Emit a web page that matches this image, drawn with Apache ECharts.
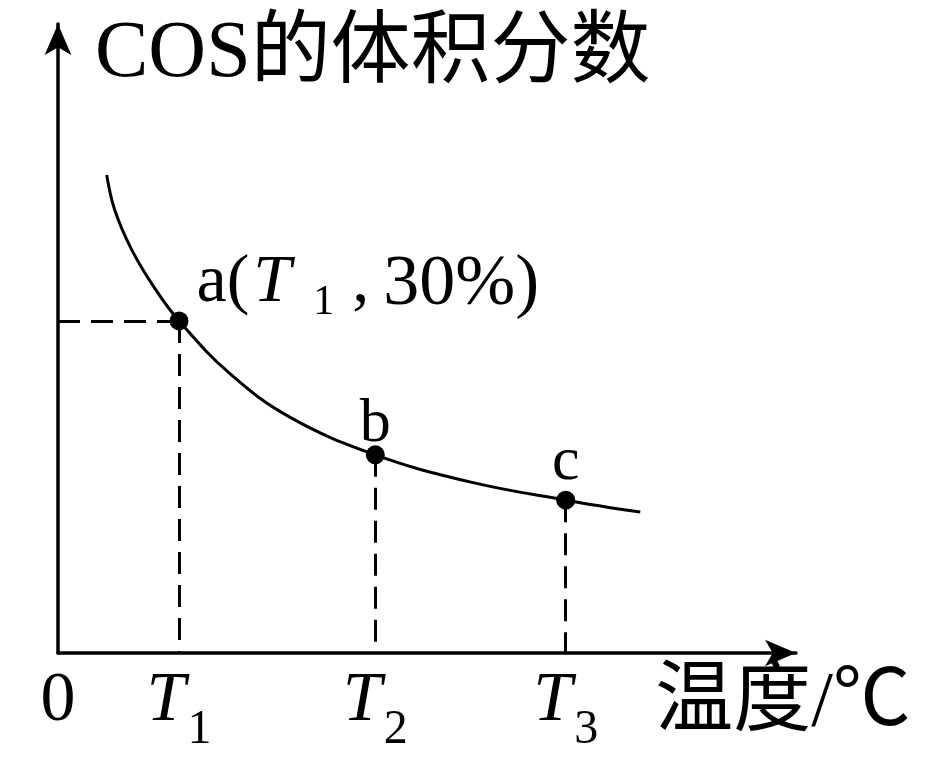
<!DOCTYPE html>
<html>
<head>
<meta charset="utf-8">
<script src="https://cdn.jsdelivr.net/npm/echarts@6/dist/echarts.min.js"></script>
<style>
  html, body { margin: 0; padding: 0; background: #fff; }
  #chart { width: 945px; height: 768px; }
</style>
</head>
<body>
<div id="chart"></div>
<script>
// curve, both axes in 0-100 units
const curveX = [6.6, 7.7, 10.0, 13.1, 16.4, 23.3, 31.4, 43.0, 55.8, 68.8, 78.9];
const curveY = [76.0, 70.4, 64.1, 58.0, 52.8, 44.4, 37.5, 31.5, 27.2, 24.3, 22.4];
// marked points a, b, c
const pointNames = ['a', 'b', 'c'];
const pointX = [16.4, 43.0, 68.8];
const pointY = [52.8, 31.5, 24.3];
// x axis labels
const tickValues = [0, 16.4, 43.0, 68.8];
const tickLabels = ['0', 'T1', 'T2', 'T3'];

const serif = "'Liberation Serif', 'Noto Sans CJK SC', serif";

const chart = echarts.init(document.getElementById('chart'));

const curveData = curveX.map((x, i) => [x, curveY[i]]);
const pointData = pointX.map((x, i) => ({
  value: [x, pointY[i]],
  name: pointNames[i]
}));

// dashed guides: horizontal from y axis to a, verticals down to x axis
const guideLines = [[{ coord: [0, pointY[0]] }, { coord: [pointX[0], pointY[0]] }]];
pointX.forEach((x, i) => {
  guideLines.push([{ coord: [x, pointY[i]] }, { coord: [x, 0] }]);
});

const subRich = {
  t: { fontFamily: serif, fontStyle: 'italic', fontSize: 70, lineHeight: 70, verticalAlign: 'top', color: '#000' },
  s: { fontFamily: serif, fontSize: 48, lineHeight: 87, verticalAlign: 'bottom', color: '#000', padding: [0, 0, 0, 2] },
  z: { fontFamily: serif, fontSize: 70, lineHeight: 70, verticalAlign: 'top', color: '#000' }
};

const labelRich = {
  n: { fontFamily: serif, fontSize: 68, lineHeight: 68, verticalAlign: 'top', color: '#000' },
  t: { fontFamily: serif, fontStyle: 'italic', fontSize: 68, lineHeight: 68, verticalAlign: 'top', color: '#000', padding: [0, 0, 0, 4] },
  s: { fontFamily: serif, fontSize: 42, lineHeight: 75, verticalAlign: 'bottom', color: '#000', padding: [0, 0, 0, 22] },
  c: { fontFamily: serif, fontSize: 68, lineHeight: 68, verticalAlign: 'top', color: '#000', padding: [0, 0, 0, 18] },
  v: { fontFamily: serif, fontSize: 72, lineHeight: 68, verticalAlign: 'top', color: '#000', padding: [0, 0, 0, 14] }
};

const option = {
  animation: false,
  grid: { left: 58, right: 149, top: 24, bottom: 115, outerBoundsMode: 'none' },
  xAxis: {
    type: 'value',
    min: 0,
    max: 100,
    name: '温度/℃',
    nameLocation: 'end',
    nameGap: -13,
    nameMoveOverlap: false,
    nameTextStyle: {
      fontFamily: serif,
      fontSize: 78,
      lineHeight: 104,
      color: '#000',
      align: 'center',
      verticalAlign: 'top'
    },
    axisLine: {
      lineStyle: { color: '#000', width: 3.5 },
      symbol: ['none', 'arrow'],
      symbolSize: [20, 31]
    },
    axisTick: { show: false },
    splitLine: { show: false },
    axisLabel: {
      customValues: tickValues,
      margin: 14,
      formatter: function (value) {
        const lab = tickLabels[tickValues.indexOf(value)] || '';
        if (lab.length === 2) return '{t|' + lab[0] + '}{s|' + lab[1] + '}';
        return '{z|' + lab + '}';
      },
      rich: subRich
    }
  },
  yAxis: {
    type: 'value',
    min: 0,
    max: 100,
    name: 'COS的体积分数',
    nameLocation: 'end',
    nameGap: -31,
    nameMoveOverlap: false,
    nameTextStyle: {
      fontFamily: serif,
      fontSize: 80,
      lineHeight: 80,
      color: '#000',
      align: 'left',
      verticalAlign: 'middle',
      padding: [0, 0, 0, 37]
    },
    axisLine: {
      lineStyle: { color: '#000', width: 3.5 },
      symbol: ['none', 'arrow'],
      symbolSize: [20, 31]
    },
    axisTick: { show: false },
    axisLabel: { show: false },
    splitLine: { show: false }
  },
  series: [
    {
      type: 'line',
      data: curveData,
      smooth: 0.4,
      symbol: 'none',
      lineStyle: { color: '#000', width: 3 },
      z: 2
    },
    {
      type: 'scatter',
      data: pointData,
      symbolSize: 19,
      itemStyle: { color: '#000', opacity: 1 },
      z: 3,
      label: {
        show: true,
        color: '#000',
        fontFamily: serif,
        fontSize: 62,
        position: 'top',
        formatter: function (p) {
          if (p.name === 'a') return '{n|a(}{t|T}{s|1}{c|,}{v|30%)}';
          return p.name;
        },
        rich: labelRich
      },
      markLine: {
        silent: true,
        symbol: ['none', 'none'],
        label: { show: false },
        lineStyle: { color: '#000', width: 3, type: [22, 11] },
        data: guideLines
      }
    }
  ]
};

// per-point label placement
option.series[1].data[0].label = { position: [27, -62] };
option.series[1].data[1].label = { position: 'top', distance: -10 };
option.series[1].data[2].label = { position: 'top', distance: -3 };

chart.setOption(option);
window.addEventListener('resize', function () {
  chart.resize();
});
</script>
</body>
</html>
